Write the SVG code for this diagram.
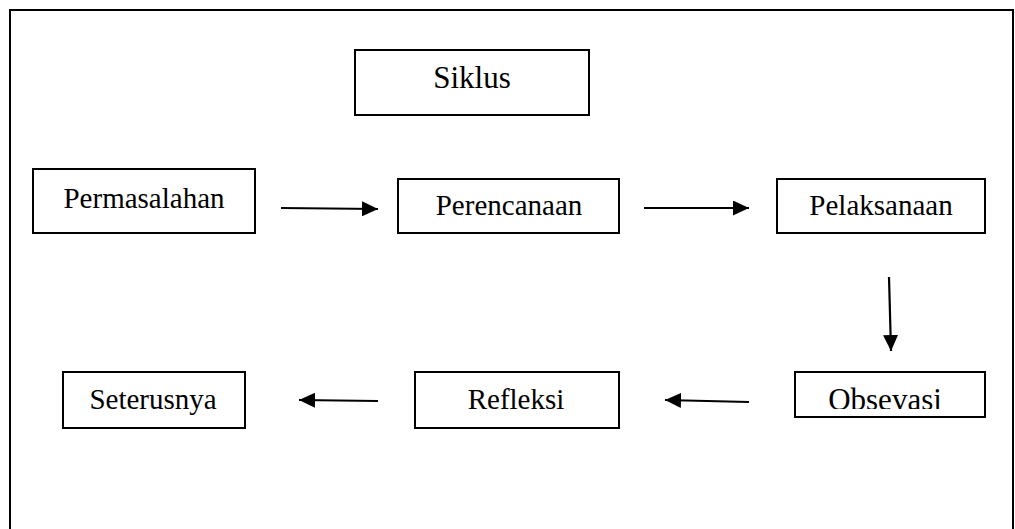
<svg xmlns="http://www.w3.org/2000/svg" width="1015" height="529" viewBox="0 0 1015 529">
  <style>
    .box { fill: #ffffff; stroke: #000000; stroke-width: 2; }
    .lbl { font-family: "Liberation Serif", "Times New Roman", serif; font-size: 29px; fill: #000000; text-anchor: middle; }
    .conn { stroke: #000000; stroke-width: 2.2; fill: none; marker-end: url(#arrow); }
  </style>
  <defs>
    <marker id="arrow" markerUnits="userSpaceOnUse" markerWidth="17" markerHeight="15" refX="16" refY="7.5" orient="auto">
      <path d="M0,0 L16,7.5 L0,15 Z" fill="#000000"/>
    </marker>
    <clipPath id="obsClip">
      <rect x="796" y="373" width="188" height="36"/>
    </clipPath>
  </defs>
  <rect x="0" y="0" width="1015" height="529" fill="#ffffff"/>
  <rect x="10" y="10" width="1003" height="530" fill="none" stroke="#000000" stroke-width="2"/>

  <g id="siklus">
    <rect class="box" x="355" y="50" width="234" height="65"/>
    <text class="lbl" x="472" y="88" style="font-size:31px">Siklus</text>
  </g>
  <g id="permasalahan">
    <rect class="box" x="33" y="169" width="222" height="64"/>
    <text class="lbl" x="144" y="208">Permasalahan</text>
  </g>
  <g id="perencanaan">
    <rect class="box" x="398" y="179" width="221" height="54"/>
    <text class="lbl" x="509" y="215">Perencanaan</text>
  </g>
  <g id="pelaksanaan">
    <rect class="box" x="777" y="179" width="208" height="54"/>
    <text class="lbl" x="881" y="215">Pelaksanaan</text>
  </g>
  <g id="obsevasi">
    <rect class="box" x="795" y="372" width="190" height="45"/>
    <text class="lbl" x="885" y="410" style="font-size:31px" clip-path="url(#obsClip)">Obsevasi</text>
  </g>
  <g id="refleksi">
    <rect class="box" x="415" y="372" width="204" height="56"/>
    <text class="lbl" x="516" y="409">Refleksi</text>
  </g>
  <g id="seterusnya">
    <rect class="box" x="63" y="372" width="182" height="56"/>
    <text class="lbl" x="153" y="409">Seterusnya</text>
  </g>

  <g id="connectors">
    <line class="conn" x1="281" y1="208" x2="378" y2="209"/>
    <line class="conn" x1="644" y1="208" x2="749" y2="208"/>
    <line class="conn" x1="889" y1="277" x2="891" y2="351"/>
    <line class="conn" x1="749" y1="402" x2="665" y2="400"/>
    <line class="conn" x1="378" y1="401" x2="299" y2="400"/>
  </g>
</svg>
